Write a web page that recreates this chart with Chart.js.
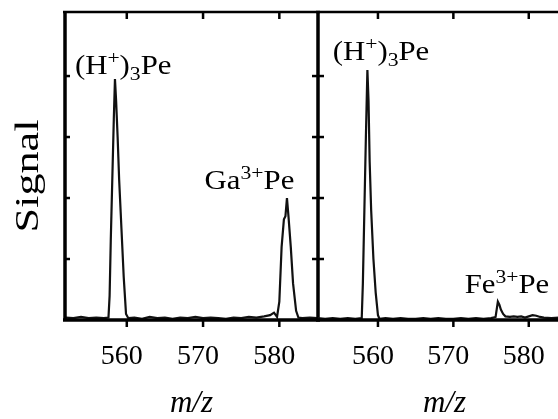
<!DOCTYPE html>
<html><head><meta charset="utf-8">
<script src="https://cdn.jsdelivr.net/npm/chart.js@4/dist/chart.umd.min.js"></script>
<style>
html,body{margin:0;padding:0;background:#fff;overflow:hidden;width:558px;height:419px;}
canvas{position:absolute;top:0;}
#c1{left:0;} #c2{left:253px;}
</style></head><body>
<canvas id="c1" width="330" height="419"></canvas>
<canvas id="c2" width="330" height="419"></canvas>
<script>
// ---- data ----
const xTickValues = [560, 570, 580];
const yTickValues = [1, 2, 3, 4];
const xAxisTitle = 'm/z';
const yAxisTitle = 'Signal';

const leftMz = [552.0, 553.0, 554.0, 555.0, 556.0, 557.0, 557.6, 557.75, 557.9, 558.1, 558.3, 558.45, 558.6, 558.8, 559.0, 559.3, 559.6, 559.9, 560.2, 561.0, 562.0, 563.0, 564.0, 565.0, 566.0, 567.0, 568.0, 569.0, 570.0, 571.0, 572.0, 573.0, 574.0, 575.0, 576.0, 577.0, 578.0, 578.8, 579.3, 579.7, 580.0, 580.3, 580.6, 580.8, 581.0, 581.2, 581.5, 581.8, 582.2, 582.5, 583.0, 584.0, 585.0];
const leftSignal = [0.04, 0.03, 0.05, 0.03, 0.04, 0.03, 0.04, 0.4, 1.3, 2.3, 3.3, 3.95, 3.6, 3.0, 2.3, 1.5, 0.7, 0.1, 0.03, 0.04, 0.02, 0.05, 0.03, 0.04, 0.02, 0.04, 0.03, 0.05, 0.03, 0.04, 0.03, 0.02, 0.04, 0.03, 0.05, 0.04, 0.06, 0.08, 0.12, 0.05, 0.3, 1.2, 1.65, 1.7, 2.0, 1.7, 1.2, 0.6, 0.15, 0.04, 0.03, 0.04, 0.03];

const rightMz = [552, 553, 554, 555, 556, 557, 557.85, 558.0, 558.2, 558.4, 558.6, 558.75, 558.9, 559.1, 559.4, 559.7, 560.0, 560.2, 561, 562, 563, 564, 565, 566, 567, 568, 569, 570, 571, 572, 573, 574, 575, 575.6, 575.9, 576.1, 576.3, 576.6, 576.9, 577.5, 578, 578.5, 579, 579.5, 580, 580.5, 581, 581.5, 582, 583, 584, 585];
const rightSignal = [0.03, 0.02, 0.03, 0.02, 0.03, 0.02, 0.03, 0.6, 1.8, 3.0, 4.1, 3.6, 2.6, 1.8, 1.0, 0.45, 0.08, 0.02, 0.03, 0.02, 0.03, 0.02, 0.02, 0.03, 0.02, 0.03, 0.02, 0.02, 0.03, 0.02, 0.03, 0.02, 0.03, 0.05, 0.3, 0.25, 0.17, 0.1, 0.06, 0.05, 0.06, 0.05, 0.06, 0.04, 0.06, 0.08, 0.07, 0.05, 0.04, 0.03, 0.04, 0.03];

// peak annotations: anchor (m/z, signal) and text parts [text, level] (1 = superscript, -1 = subscript)
const leftPeakLabels = [
  {mz: 553.2, signal: 4.03, parts: [['(H', 0], ['+', 1], [')', 0], ['3', -1], ['Pe', 0]]},
  {mz: 570.2, signal: 2.14, parts: [['Ga', 0], ['3+', 1], ['Pe', 0]]}
];
const rightPeakLabels = [
  {mz: 554.0, signal: 4.26, parts: [['(H', 0], ['+', 1], [')', 0], ['3', -1], ['Pe', 0]]},
  {mz: 571.5, signal: 0.44, parts: [['Fe', 0], ['3+', 1], ['Pe', 0]]}
];

// ---- drawing ----
const SERIF = "'Liberation Serif', 'Times New Roman', serif";

function drawRich(ctx, parts, x, y) {
  ctx.save();
  ctx.translate(x, y);
  ctx.scale(1.14, 1);
  ctx.fillStyle = '#000';
  ctx.textBaseline = 'alphabetic';
  ctx.textAlign = 'left';
  let cx = 0;
  parts.forEach(([t, lvl]) => {
    ctx.font = (lvl === 0 ? 27 : 19) + 'px ' + SERIF;
    const dy = lvl === 1 ? -10 : (lvl === -1 ? 6 : 0);
    ctx.fillText(t, cx, dy);
    cx += ctx.measureText(t).width;
  });
  ctx.restore();
}

const framePlugin = {
  id: 'frame',
  afterDatasetsDraw(chart, args, opts) {
    const {ctx, chartArea: {left, right, top, bottom}, scales: {x, y}} = chart;
    const line = (x1, y1, x2, y2) => { ctx.beginPath(); ctx.moveTo(x1, y1); ctx.lineTo(x2, y2); ctx.stroke(); };
    ctx.save();
    ctx.strokeStyle = '#000';
    ctx.lineWidth = 2.5;
    line(left - 2, top, right + 2, top);
    ctx.lineWidth = 3.5;
    line(left - 2, bottom, right + 2, bottom);
    if (opts.left) line(left, top, left, bottom);
    if (opts.right) line(right, top, right, bottom);
    ctx.lineWidth = 2.5;
    x.ticks.forEach(t => {
      const px = x.getPixelForValue(t.value);
      line(px, bottom, px, bottom + 7);
      line(px, top, px, top + 7);
    });
    yTickValues.forEach(v => {
      const py = y.getPixelForValue(v);
      if (opts.left) line(left, py, left + 5, py);
      if (opts.right) line(right - 6, py, right + 6, py);
    });
    ctx.restore();
  },
  afterDraw(chart, args, opts) {
    const {ctx, scales: {x, y}} = chart;
    (opts.labels || []).forEach(l => drawRich(ctx, l.parts, x.getPixelForValue(l.mz), y.getPixelForValue(l.signal)));
    if (opts.yTitle) {
      ctx.save();
      ctx.translate(29, 176);
      ctx.rotate(-Math.PI / 2);
      ctx.scale(1.3, 1);
      ctx.font = '34px ' + SERIF;
      ctx.fillStyle = '#000';
      ctx.textAlign = 'center';
      ctx.textBaseline = 'middle';
      ctx.fillText(opts.yTitle, 0, 0);
      ctx.restore();
    }
  }
};

function makeChart(id, mz, signal, xmin, xmax, frameOpts) {
  return new Chart(document.getElementById(id), {
    type: 'line',
    data: {
      datasets: [{
        data: mz.map((m, i) => ({x: m, y: signal[i]})),
        borderColor: '#111',
        borderWidth: 2.2,
        pointRadius: 0,
        tension: 0,
        fill: false
      }]
    },
    options: {
      responsive: false,
      animation: false,
      devicePixelRatio: 1,
      layout: {padding: {left: 65, right: 12, top: 12, bottom: 0}},
      plugins: {legend: {display: false}, tooltip: {enabled: false}, frame: frameOpts},
      scales: {
        x: {
          type: 'linear', min: xmin, max: xmax,
          afterBuildTicks: s => { s.ticks = xTickValues.map(v => ({value: v})); },
          afterFit: s => { s.height = 99; },
          grid: {display: false, drawTicks: false},
          border: {display: false},
          ticks: {color: '#000', padding: 20, font: {family: SERIF, size: 28}, labelOffset: -5},
          title: {display: true, text: xAxisTitle, color: '#000', padding: {top: 0, bottom: 0},
                  font: {family: SERIF, size: 31, style: 'italic', lineHeight: 1}}
        },
        y: {
          display: false, min: 0, max: 5.05,
          afterBuildTicks: s => { s.ticks = yTickValues.map(v => ({value: v})); }
        }
      }
    },
    plugins: [framePlugin]
  });
}

makeChart('c1', leftMz, leftSignal, 551.9, 585.07, {left: true, right: true, labels: leftPeakLabels, yTitle: yAxisTitle});
makeChart('c2', rightMz, rightSignal, 552.05, 585.6, {left: false, right: false, labels: rightPeakLabels});
</script>
</body></html>
